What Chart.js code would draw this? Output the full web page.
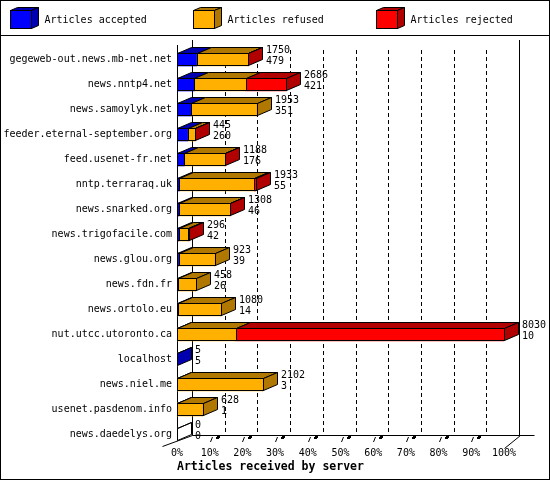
<!DOCTYPE html>
<html>
<head>
<meta charset="utf-8">
<script src="https://cdn.jsdelivr.net/npm/chart.js@4/dist/chart.umd.min.js"></script>
<style>
html,body{margin:0;padding:0;background:#fff;}
canvas{display:block;}
</style>
</head>
<body>
<canvas id="c" width="550" height="480"></canvas>
<script>
// ---- data ----
const servers = [
  'gegeweb-out.news.mb-net.net', 'news.nntp4.net', 'news.samoylyk.net',
  'feeder.eternal-september.org', 'feed.usenet-fr.net', 'nntp.terraraq.uk',
  'news.snarked.org', 'news.trigofacile.com', 'news.glou.org', 'news.fdn.fr',
  'news.ortolo.eu', 'nut.utcc.utoronto.ca', 'localhost', 'news.niel.me',
  'usenet.pasdenom.info', 'news.daedelys.org'
];
const totals   = [1750, 2686, 1953, 445, 1188, 1933, 1308, 296, 923, 458, 1080, 8030, 5, 2102, 628, 0];
const accepted = [479, 421, 351, 260, 176, 55, 46, 42, 39, 26, 14, 10, 5, 3, 1, 0];
const refused  = [1263, 1265, 1602, 180, 1000, 1840, 1250, 240, 884, 432, 1066, 1430, 0, 2099, 627, 0];
const rejected = [8, 1000, 0, 5, 12, 38, 12, 14, 0, 0, 0, 6590, 0, 0, 0, 0];
const seriesNames = ['Articles accepted', 'Articles refused', 'Articles rejected'];
const xTickLabels = ['0%', '10%', '20%', '30%', '40%', '50%', '60%', '70%', '80%', '90%', '100%'];
const axisTitle = 'Articles received by server';

// ---- styles ----
const frontColors = ['#0000ff', '#ffb000', '#ff0000'];
const sideColors  = ['#0000b0', '#b07800', '#b00000'];
const FONT = 'DejaVu Sans Mono';
const maxTotal = Math.max(...totals);
const BAR_DX = 14, BAR_DY = 6, AX_DX = 15;

function poly(ctx, pts, fill) {
  ctx.beginPath();
  ctx.moveTo(pts[0][0], pts[0][1]);
  for (let i = 1; i < pts.length; i++) ctx.lineTo(pts[i][0], pts[i][1]);
  ctx.closePath();
  if (fill) { ctx.fillStyle = fill; ctx.fill(); }
  ctx.strokeStyle = '#000';
  ctx.lineWidth = 1;
  ctx.stroke();
}
function line(ctx, x1, y1, x2, y2) {
  ctx.beginPath(); ctx.moveTo(x1, y1); ctx.lineTo(x2, y2); ctx.stroke();
}

const deco = {
  id: 'deco',
  beforeDatasetsDraw(chart) {
    const ctx = chart.ctx, ca = chart.chartArea, xs = chart.scales.x;
    ctx.save();
    ctx.strokeStyle = '#000'; ctx.lineWidth = 1;
    const fl = Math.round(xs.getPixelForValue(0)) + 0.5;
    const fr = Math.round(xs.getPixelForValue(maxTotal)) + 0.5;
    const backFloor = ca.bottom - 12 + 0.5;
    // dashed grid lines on the back plane
    ctx.setLineDash([4, 3]);
    for (let k = 1; k < xTickLabels.length - 1; k++) {
      const bx = Math.round(xs.getPixelForValue(maxTotal * k / (xTickLabels.length - 1))) + AX_DX + 0.5;
      line(ctx, bx, ca.top + 3, bx, backFloor);
    }
    ctx.setLineDash([]);
    // walls
    line(ctx, fl, ca.top - 2, fl, ca.bottom - 8);
    line(ctx, fl + AX_DX, ca.top - 7, fl + AX_DX, backFloor);
    line(ctx, fr + AX_DX, ca.top - 7, fr + AX_DX, backFloor);
    // floor
    line(ctx, fl + AX_DX, backFloor, fr + AX_DX + 15, backFloor);
    line(ctx, fl - 15, ca.bottom - 1 + 0.5, fl + AX_DX, backFloor);
    line(ctx, fr, ca.bottom + 1 + 0.5, fr + AX_DX + 1, backFloor);
    // small 3d ticks
    ctx.fillStyle = '#000';
    for (let k = 1; k < xTickLabels.length - 1; k++) {
      const fx = Math.round(xs.getPixelForValue(maxTotal * k / (xTickLabels.length - 1))) + 0.5;
      line(ctx, fx, ca.bottom - 5, fx + 2, ca.bottom - 10);
      ctx.fillRect(fx + 6.5, ca.bottom - 11, 3, 2);
      ctx.fillRect(fx + 5.5, ca.bottom - 10, 3, 2);
    }
    ctx.restore();
  },
  afterDatasetsDraw(chart) {
    const ctx = chart.ctx;
    const metas = [0, 1, 2].map(d => chart.getDatasetMeta(d).data);
    const series = [accepted, refused, rejected];
    ctx.save();
    ctx.lineWidth = 1; ctx.strokeStyle = '#000';
    for (let i = 0; i < servers.length; i++) {
      const el0 = metas[0][i];
      const yc = el0.y, h = el0.height;
      const top = Math.round(yc - h / 2) + 0.5;
      const bot = top + Math.round(h) - 1;
      let lastD = -1, lastR = Math.round(el0.base) + 0.5;
      const segs = [];
      for (let d = 0; d < 3; d++) {
        if (series[d][i] <= 0) continue;
        const el = metas[d][i];
        const L = Math.round(Math.min(el.base, el.x)) + 0.5;
        const R = Math.round(Math.max(el.base, el.x)) + 0.5;
        segs.push([L, R, d]);
        lastD = d; lastR = R;
      }
      // top faces
      for (const [L, R, d] of segs) {
        poly(ctx, [[L, top], [R, top], [R + BAR_DX, top - BAR_DY], [L + BAR_DX, top - BAR_DY]], sideColors[d]);
      }
      if (!segs.length) {
        line(ctx, lastR, top, lastR + BAR_DX, top - BAR_DY);
      }
      // right face of the last segment
      poly(ctx, [[lastR, top], [lastR + BAR_DX, top - BAR_DY], [lastR + BAR_DX, bot - BAR_DY], [lastR, bot]],
           lastD >= 0 ? sideColors[lastD] : null);
      // front outlines
      for (const [L, R] of segs) {
        ctx.strokeRect(L, top, R - L, bot - top);
      }
      // value labels
      ctx.fillStyle = '#000';
      ctx.font = '10px "' + FONT + '"';
      ctx.textAlign = 'left'; ctx.textBaseline = 'middle';
      const lx = Math.round(Math.max(...metas.map(m => m[i].x))) + BAR_DX + 4;
      ctx.fillText(String(totals[i]), lx, yc - 9.5);
      ctx.fillText(String(accepted[i]), lx, yc + 1.5);
    }
    ctx.restore();
  },
  afterDraw(chart) {
    const ctx = chart.ctx;
    ctx.save();
    ctx.strokeStyle = '#000'; ctx.lineWidth = 1;
    ctx.strokeRect(0.5, 0.5, chart.width - 1, chart.height - 1);
    line(ctx, 0, 35.5, chart.width, 35.5);
    // legend
    ctx.font = '10px "' + FONT + '"';
    ctx.textAlign = 'left'; ctx.textBaseline = 'middle';
    for (let k = 0; k < seriesNames.length; k++) {
      const x = 10.5 + k * 183, y = 10.5;
      ctx.fillStyle = frontColors[k];
      ctx.fillRect(x, y, 21, 18);
      ctx.strokeRect(x, y, 21, 18);
      poly(ctx, [[x, y], [x + 21, y], [x + 28, y - 3], [x + 7, y - 3]], sideColors[k]);
      poly(ctx, [[x + 21, y], [x + 28, y - 3], [x + 28, y + 15], [x + 21, y + 18]], sideColors[k]);
      ctx.fillStyle = '#000';
      ctx.fillText(seriesNames[k], x + 34, 20);
    }
    ctx.restore();
  }
};

const series = [accepted, refused, rejected];
new Chart(document.getElementById('c'), {
  type: 'bar',
  data: {
    labels: servers,
    datasets: series.map((s, d) => ({
      label: seriesNames[d],
      data: s,
      backgroundColor: frontColors[d],
      borderWidth: 0,
      barThickness: 13
    }))
  },
  options: {
    indexAxis: 'y',
    responsive: false,
    animation: false,
    devicePixelRatio: 1,
    layout: { padding: { top: 47, right: 46, bottom: 0, left: 0 } },
    plugins: { legend: { display: false }, tooltip: { enabled: false } },
    scales: {
      x: {
        stacked: true,
        min: 0,
        max: maxTotal,
        afterBuildTicks: (scale) => {
          scale.ticks = xTickLabels.map((t, k) => ({ value: maxTotal * k / (xTickLabels.length - 1) }));
        },
        ticks: {
          callback: (v, k) => xTickLabels[k],
          font: { family: FONT, size: 10 },
          color: '#000',
          padding: 0,
          maxRotation: 0,
          autoSkip: false
        },
        grid: { display: false, drawTicks: false },
        border: { display: false },
        title: {
          display: true,
          text: axisTitle,
          align: 'start',
          color: '#000',
          font: { family: FONT, size: 11.5, weight: 'bold' },
          padding: { top: 0, bottom: 6 }
        },
        afterFit: (s) => { s.height = 33; }
      },
      y: {
        stacked: true,
        ticks: {
          font: { family: FONT, size: 10 },
          color: '#000',
          padding: 5,
          autoSkip: false
        },
        grid: { display: false, drawTicks: false },
        border: { display: false },
        afterFit: (s) => { s.width = 177; }
      }
    }
  },
  plugins: [deco]
});
</script>
</body>
</html>
